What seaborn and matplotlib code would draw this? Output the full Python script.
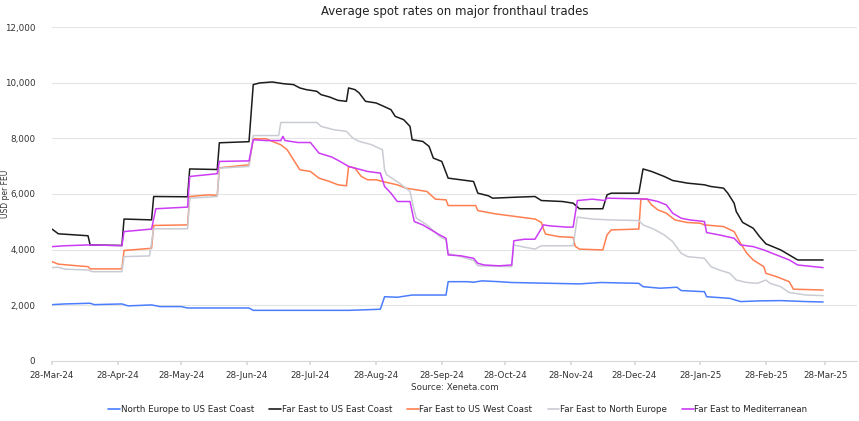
import pandas as pd
import matplotlib
matplotlib.use("Agg")
import matplotlib.pyplot as plt
import matplotlib.dates as mdates
import seaborn as sns

# series breakpoints: days after 28-Mar-24 and USD per FEU
blue_days = [0, 6, 18, 20, 33, 36, 47, 51, 61, 64, 93, 95, 140, 146, 155, 157, 163, 170, 186, 187,
             196, 199, 203, 211, 217, 249, 259, 277, 279, 287, 295, 297, 308, 309, 320, 325, 334, 344, 356, 364]
blue_vals = [2025, 2050, 2075, 2025, 2050, 1980, 2015, 1955, 1955, 1905, 1905, 1820, 1820, 1835, 1860, 2310,
             2290, 2370, 2370, 2850, 2850, 2830, 2880, 2850, 2820, 2770, 2820, 2790, 2670, 2615, 2650, 2530,
             2490, 2310, 2250, 2135, 2160, 2170, 2135, 2120]

black_days = [0, 3, 17, 18, 33, 34, 47, 48, 64, 65, 78, 79, 93, 95, 98, 104, 109, 114, 117, 120, 125, 127,
              131, 135, 139, 140, 143, 145, 148, 153, 156, 160, 162, 166, 169, 170, 175, 178, 180, 184, 187,
              193, 199, 201, 206, 208, 219, 228, 231, 241, 246, 249, 260, 262, 264, 277, 279, 283, 289, 293,
              300, 308, 311, 317, 319, 322, 323, 326, 331, 334, 337, 344, 348, 352, 364]
black_vals = [4740, 4570, 4500, 4170, 4150, 5100, 5070, 5910, 5900, 6900, 6880, 7840, 7880, 9930, 9990,
              10025, 9965, 9930, 9810, 9750, 9690, 9570, 9485, 9365, 9330, 9810, 9750, 9630, 9330, 9270,
              9170, 9030, 8790, 8670, 8430, 7950, 7890, 7710, 7290, 7170, 6570, 6510, 6450, 6030, 5935, 5850,
              5885, 5910, 5765, 5730, 5670, 5470, 5470, 5970, 6030, 6030, 6900, 6810, 6630, 6485, 6390, 6330,
              6270, 6210, 6030, 5670, 5370, 4980, 4770, 4470, 4210, 3990, 3810, 3630, 3630]

orange_days = [0, 3, 12, 17, 18, 33, 34, 47, 48, 64, 65, 74, 78, 79, 93, 95, 101, 104, 108, 111, 114, 117,
               122, 126, 131, 135, 139, 140, 143, 146, 149, 153, 158, 163, 167, 172, 177, 181, 186, 187, 200,
               201, 209, 219, 228, 231, 232, 233, 239, 246, 247, 249, 260, 262, 264, 277, 278, 281, 283, 286,
               290, 294, 300, 306, 308, 317, 322, 325, 328, 331, 336, 337, 342, 348, 350, 364]
orange_vals = [3570, 3480, 3420, 3390, 3310, 3310, 3970, 4050, 4870, 4890, 5910, 5970, 5950, 6940, 7050,
               7985, 7985, 7890, 7770, 7590, 7230, 6870, 6810, 6570, 6450, 6330, 6295, 6990, 6930, 6630,
               6510, 6510, 6415, 6330, 6210, 6150, 6090, 5815, 5790, 5585, 5585, 5405, 5290, 5190, 5100,
               4980, 4740, 4560, 4470, 4440, 4120, 4020, 3990, 4530, 4710, 4740, 5820, 5815, 5610, 5430,
               5310, 5070, 4975, 4950, 4890, 4830, 4650, 4230, 3870, 3630, 3390, 3150, 3030, 2850, 2580, 2550]

grey_days = [0, 3, 6, 17, 19, 33, 34, 46, 48, 64, 65, 78, 79, 93, 95, 107, 108, 125, 127, 133, 139, 142,
             145, 151, 153, 156, 157, 158, 164, 169, 171, 172, 177, 183, 186, 187, 193, 199, 201, 217, 218,
             223, 228, 231, 246, 248, 255, 263, 277, 279, 284, 289, 293, 297, 300, 308, 311, 315, 320, 323,
             328, 333, 337, 339, 344, 348, 356, 364]
grey_vals = [3355, 3370, 3300, 3270, 3210, 3210, 3750, 3775, 4750, 4750, 5850, 5910, 6930, 6990, 8100,
             8100, 8570, 8570, 8430, 8310, 8250, 8010, 7890, 7770, 7690, 7590, 6870, 6690, 6390, 6090,
             5400, 5130, 4890, 4470, 4350, 3870, 3750, 3610, 3420, 3390, 4170, 4090, 4020, 4140, 4140,
             5170, 5100, 5070, 5045, 4890, 4740, 4530, 4290, 3870, 3750, 3690, 3390, 3270, 3150, 2910,
             2820, 2790, 2910, 2790, 2670, 2460, 2370, 2350]

magenta_days = [0, 6, 17, 33, 34, 47, 49, 64, 65, 78, 79, 93, 95, 101, 108, 109, 110, 116, 122, 126, 132,
                136, 140, 143, 149, 155, 156, 157, 160, 163, 169, 171, 175, 179, 183, 186, 187, 193, 199,
                201, 204, 211, 217, 218, 223, 228, 232, 235, 243, 246, 248, 255, 261, 262, 275, 281, 286,
                290, 293, 297, 301, 308, 309, 315, 322, 325, 331, 336, 342, 348, 352, 364]
magenta_vals = [4110, 4140, 4170, 4145, 4650, 4740, 5470, 5530, 6630, 6730, 7170, 7190, 7950, 7920, 7920,
                8070, 7920, 7850, 7850, 7470, 7330, 7170, 6990, 6930, 6810, 6750, 6510, 6270, 6030, 5730,
                5730, 5010, 4890, 4710, 4530, 4410, 3810, 3780, 3690, 3510, 3450, 3420, 3450, 4320, 4375,
                4375, 4890, 4855, 4810, 4810, 5765, 5815, 5765, 5850, 5830, 5815, 5730, 5610, 5310, 5130,
                5070, 5010, 4615, 4530, 4410, 4170, 4110, 3990, 3810, 3630, 3450, 3355]

trades = ["North Europe to US East Coast", "Far East to US East Coast", "Far East to US West Coast",
          "Far East to North Europe", "Far East to Mediterranean"]
colors = ["#4a7dff", "#1c1c1c", "#ff7f50", "#c9ccd3", "#cc3cf5"]

start = pd.Timestamp("2024-03-28")
frames = []
for name, d, v in zip(trades,
                      [blue_days, black_days, orange_days, grey_days, magenta_days],
                      [blue_vals, black_vals, orange_vals, grey_vals, magenta_vals]):
    frames.append(pd.DataFrame({"date": start + pd.to_timedelta(d, unit="D"),
                                "rate": v, "trade": name}))
df = pd.concat(frames, ignore_index=True)

sns.set_theme(style="white")
plt.rcParams["font.family"] = ["DejaVu Sans"]

fig = plt.figure(figsize=(8.59, 4.21), dpi=100)
ax = fig.add_axes([52/859, 1-361/421, 805/859, 334/421])

sns.lineplot(data=df, x="date", y="rate", hue="trade", hue_order=trades,
             palette=colors, estimator=None, linewidth=1.1, ax=ax, legend=False)

ax.set_ylim(0, 12000)
ax.set_yticks(range(0, 12001, 2000))
ax.yaxis.set_major_formatter(matplotlib.ticker.StrMethodFormatter("{x:,.0f}"))
ax.set_xlim(start, pd.Timestamp("2025-04-12"))
ticks = [start + pd.DateOffset(months=i) for i in range(13)]
ax.set_xticks(ticks)
ax.xaxis.set_major_formatter(mdates.DateFormatter("%d-%b-%y"))

ax.grid(axis="y", color="#e4e4e4", linewidth=0.8)
for s in ["top", "right", "left"]:
    ax.spines[s].set_visible(False)
ax.spines["bottom"].set_color("#d9d9d9")
ax.spines["bottom"].set_linewidth(0.8)
ax.tick_params(axis="x", bottom=True, length=3, color="#d9d9d9", labelsize=6.3, pad=4, labelcolor="#333333")
ax.tick_params(axis="y", left=False, labelsize=6.3, pad=6, labelcolor="#333333")
ax.set_xlabel("")
ax.set_ylabel("USD per FEU", fontsize=5.5, color="#333333")
ax.yaxis.set_label_coords(-42/805, 0.5)

ax.set_title("Average spot rates on major fronthaul trades", fontsize=8.5, color="#222222", pad=9)
fig.text(455/859, 1-387/421, "Source: Xeneta.com", ha="center", va="center", fontsize=6.3, color="#333333")

handles = [matplotlib.lines.Line2D([], [], color=c, linewidth=1.2) for c in colors]
fig.legend(handles, trades, loc="center", bbox_to_anchor=(458/859, 1-410/421), ncol=5, frameon=False,
           fontsize=6.3, handlelength=1.3, handletextpad=0.1, columnspacing=1.75)

fig.savefig("out.png", dpi=100)
